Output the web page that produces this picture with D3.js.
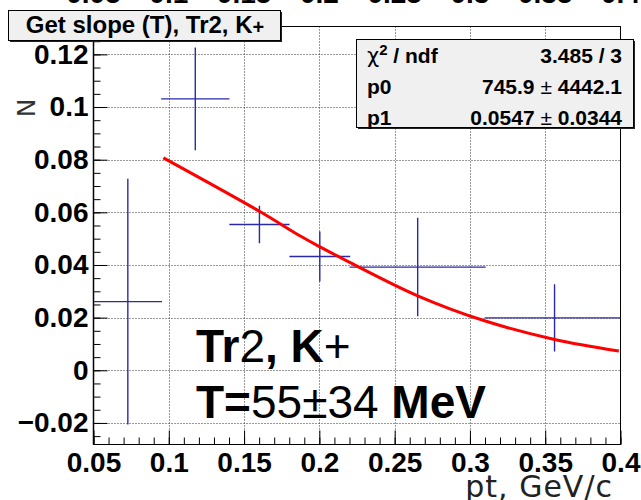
<!DOCTYPE html>
<html>
<head>
<meta charset="utf-8">
<script src="https://cdn.jsdelivr.net/npm/d3@7"></script>
<style>
  html, body { margin: 0; padding: 0; background: #fff; }
  svg { display: block; }
</style>
</head>
<body>
<svg id="chart" width="641" height="500"></svg>
<script>
// Slope measurements per pt bin (Tr2, K+)
const ptCenters   = [0.0728, 0.1176, 0.1602, 0.2003, 0.2653, 0.3562];
const ptHalfWidth = [0.0227, 0.0227, 0.0200, 0.0202, 0.0452, 0.0464];
const slopeN      = [0.0261, 0.1031, 0.0554, 0.0432, 0.0392, 0.0199];
const slopeErr    = [0.0467, 0.0195, 0.0071, 0.0095, 0.0187, 0.0128];

// Fitted curve sampled along pt
const fitPt = [0.0964, 0.1602, 0.1873, 0.2001, 0.2205, 0.2653, 0.3092, 0.3562, 0.3989];
const fitN  = [0.0807, 0.0604, 0.0510, 0.0470, 0.0409, 0.0283, 0.0189, 0.0117, 0.0073];

// Axis ticks
const xMajor = [0.05, 0.1, 0.15, 0.2, 0.25, 0.3, 0.35, 0.4];
const xTickLabels = ["0.05", "0.1", "0.15", "0.2", "0.25", "0.3", "0.35", "0.4"];
const yMajor = [-0.02, 0, 0.02, 0.04, 0.06, 0.08, 0.1, 0.12];
const yTickLabels = ["\u22120.02", "0", "0.02", "0.04", "0.06", "0.08", "0.1", "0.12"];

// Fit statistics box
const statNames  = ["\u03c7\u00b2 / ndf", "p0", "p1"];
const statValues = [["3.485 / 3", ""], ["745.9", "4442.1"], ["0.0547", "0.0344"]];

const titleText = "Get slope (T), Tr2, K";

const svg = d3.select("#chart");
const W = 641, H = 500;
const frame = { left: 93.5, right: 620.5, top: 26.5, bottom: 444.5 };

const x = d3.scaleLinear().domain([0.05, 0.4]).range([frame.left, frame.right]);
const y = d3.scaleLinear().domain([-0.028, 0.1304]).range([444, 27]);

const boldFont = "'Liberation Sans', Arial, Helvetica, sans-serif";

svg.append("rect").attr("width", W).attr("height", H).attr("fill", "#fff");

// Tick labels of the pad above, cut off at the top edge
svg.append("g")
  .selectAll("text")
  .data(xMajor)
  .join("text")
  .attr("x", d => x(d))
  .attr("y", 3)
  .attr("text-anchor", "middle")
  .attr("font-family", boldFont)
  .attr("font-weight", "bold")
  .attr("font-size", 28)
  .attr("fill", "#000")
  .text((d, i) => xTickLabels[i]);

// Grid
const grid = svg.append("g").attr("stroke", "#333").attr("stroke-width", 1)
  .attr("stroke-dasharray", "1,2");
grid.selectAll("line.gx")
  .data(xMajor.slice(1, -1))
  .join("line")
  .attr("x1", d => Math.round(x(d)) + 0.5).attr("x2", d => Math.round(x(d)) + 0.5)
  .attr("y1", frame.top).attr("y2", frame.bottom);
grid.selectAll("line.gy")
  .data(yMajor)
  .join("line")
  .attr("y1", d => Math.round(y(d)) + 0.5).attr("y2", d => Math.round(y(d)) + 0.5)
  .attr("x1", frame.left).attr("x2", frame.right);

// Frame
svg.append("rect")
  .attr("x", frame.left).attr("y", frame.top)
  .attr("width", frame.right - frame.left).attr("height", frame.bottom - frame.top)
  .attr("fill", "none").attr("stroke", "#000").attr("stroke-width", 1);

// Axes (ticks drawn inward)
const yAxis = d3.axisLeft(y).tickValues(yMajor).tickSize(-14).tickPadding(5)
  .tickFormat((d, i) => yTickLabels[i]);
const yMinor = d3.axisLeft(y).tickValues(d3.range(-0.025, 0.1301, 0.005)).tickSize(-7).tickFormat("");
const xAxis = d3.axisBottom(x).tickValues(xMajor).tickSize(-14).tickPadding(8)
  .tickFormat((d, i) => xTickLabels[i]);
const xMinor = d3.axisBottom(x).tickValues(d3.range(0.05, 0.4001, 0.01)).tickSize(-7).tickFormat("");

function styleAxis(g) {
  g.select(".domain").remove();
  g.selectAll("line").attr("stroke", "#000").attr("stroke-width", 1);
  g.selectAll("text")
    .attr("font-family", boldFont)
    .attr("font-weight", "bold")
    .attr("font-size", 28)
    .attr("fill", "#000");
}
svg.append("g").attr("transform", `translate(${frame.left},0)`).call(yMinor).call(styleAxis);
svg.append("g").attr("transform", `translate(${frame.left},0)`).call(yAxis).call(styleAxis);
svg.append("g").attr("transform", `translate(0,${frame.bottom})`).call(xMinor).call(styleAxis);
svg.append("g").attr("transform", `translate(0,${frame.bottom})`).call(xAxis).call(styleAxis);

// Left axis line slightly heavier
svg.append("line")
  .attr("x1", frame.left).attr("x2", frame.left)
  .attr("y1", frame.top).attr("y2", frame.bottom)
  .attr("stroke", "#000").attr("stroke-width", 1.5);

// Axis titles
svg.append("text")
  .attr("transform", "translate(35,108) rotate(-90)")
  .attr("text-anchor", "middle")
  .attr("font-family", "'DejaVu Sans', sans-serif")
  .attr("font-size", 25)
  .attr("fill", "#333")
  .text("N");

svg.append("text")
  .attr("x", 613).attr("y", 497)
  .attr("text-anchor", "end")
  .attr("font-family", "'DejaVu Sans', sans-serif")
  .attr("font-size", 30)
  .attr("letter-spacing", 1)
  .attr("fill", "#222")
  .text("pt, GeV/c");

// Data with error bars, clipped to the frame
svg.append("clipPath").attr("id", "plotClip")
  .append("rect")
  .attr("x", frame.left).attr("y", frame.top)
  .attr("width", frame.right - frame.left).attr("height", frame.bottom - frame.top);

const plot = svg.append("g").attr("clip-path", "url(#plotClip)");
const points = ptCenters.map((p, i) => ({ p, dp: ptHalfWidth[i], n: slopeN[i], dn: slopeErr[i] }));

const bars = plot.append("g").attr("stroke", "#2a2aa8").attr("stroke-width", 1.4);
bars.selectAll("line.h")
  .data(points)
  .join("line")
  .attr("x1", d => x(d.p - d.dp)).attr("x2", d => x(d.p + d.dp))
  .attr("y1", d => y(d.n)).attr("y2", d => y(d.n));
bars.selectAll("line.v")
  .data(points)
  .join("line")
  .attr("x1", d => x(d.p)).attr("x2", d => x(d.p))
  .attr("y1", d => y(d.n - d.dn)).attr("y2", d => y(d.n + d.dn));

// Fit curve
const fitLine = d3.line()
  .x(d => x(d[0]))
  .y(d => y(d[1]))
  .curve(d3.curveCatmullRom);
plot.append("path")
  .datum(fitPt.map((p, i) => [p, fitN[i]]))
  .attr("d", fitLine)
  .attr("fill", "none")
  .attr("stroke", "#ff0000")
  .attr("stroke-width", 3);

// Large annotation
const ann = svg.append("g").attr("font-family", boldFont).attr("font-size", 46).attr("fill", "#000");
const l1 = ann.append("text").attr("x", 196).attr("y", 362);
l1.append("tspan").attr("font-weight", "bold").text("Tr");
l1.append("tspan").attr("font-weight", "normal").text("2");
l1.append("tspan").attr("font-weight", "bold").text(", K");
l1.append("tspan").attr("font-weight", "normal").text("+");
const l2 = ann.append("text").attr("x", 196).attr("y", 418);
l2.append("tspan").attr("font-weight", "bold").text("T=");
l2.append("tspan").attr("font-weight", "normal").text("55\u00b134");
l2.append("tspan").attr("font-weight", "bold").text(" MeV");

// Boxes with a drop shadow
function shadowBox(x0, y0, w, h) {
  svg.append("rect").attr("x", x0 + 2).attr("y", y0 + 2).attr("width", w).attr("height", h)
    .attr("fill", "#222");
  svg.append("rect").attr("x", x0 + 0.5).attr("y", y0 + 0.5).attr("width", w).attr("height", h)
    .attr("fill", "#f0f0f0").attr("stroke", "#000").attr("stroke-width", 1);
}

// Title box
shadowBox(8, 10, 272, 30);
const title = svg.append("text")
  .attr("x", 145).attr("y", 33)
  .attr("text-anchor", "middle")
  .attr("font-family", boldFont)
  .attr("font-weight", "bold")
  .attr("font-size", 24)
  .attr("fill", "#000");
title.append("tspan").text(titleText);
title.append("tspan").attr("font-size", 20).attr("dy", 1).text("+");

// Statistics box
shadowBox(356, 39, 277, 88);
const stats = svg.append("g").attr("font-family", boldFont).attr("font-size", 21).attr("fill", "#000");
stats.selectAll("text.name")
  .data(statNames)
  .join("text")
  .attr("x", 367)
  .attr("y", (d, i) => 63 + i * 31)
  .attr("font-weight", "bold")
  .each(function(d) {
    const t = d3.select(this);
    if (d.startsWith("\u03c7")) {
      t.append("tspan").attr("font-weight", "normal").attr("font-family", "'DejaVu Sans', sans-serif").attr("font-size", 21).text("\u03c7");
      t.append("tspan").attr("font-size", 15).attr("dy", -8).text("2");
      t.append("tspan").attr("dy", 8).text(" / ndf");
    } else {
      t.text(d);
    }
  });
stats.selectAll("text.val")
  .data(statValues)
  .join("text")
  .attr("x", 622)
  .attr("y", (d, i) => 63 + i * 31)
  .attr("text-anchor", "end")
  .attr("font-weight", "bold")
  .each(function(d) {
    const t = d3.select(this);
    t.append("tspan").text(d[0]);
    if (d[1]) {
      t.append("tspan").attr("font-weight", "normal").text(" \u00b1 ");
      t.append("tspan").text(d[1]);
    }
  });
</script>
</body>
</html>
